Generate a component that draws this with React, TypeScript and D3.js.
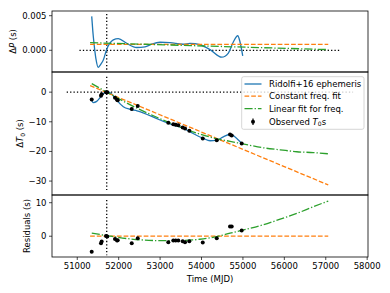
import React from 'react';
import * as d3 from 'd3';

// x axis ticks (MJD)
const mjdTicks = [51000, 52000, 53000, 54000, 55000, 56000, 57000, 58000];
const refEpoch = 51711;

// Ridolfi+16 ephemeris, period offset
const ephPMjd = [51349, 51375, 51404, 51450, 51508, 51570, 51629, 51711, 51870, 51991, 52194, 52435, 52636, 52798, 52998, 53240, 53554, 53723, 53964, 54206, 54488, 54648, 54768, 54875, 54930, 54995];
const ephDP = [0.0049, 0.0028, 0.001, -0.0012, -0.00246, -0.002, -0.0014, 0.00015, 0.0015, 0.0017, 0.001, 0.0004, 0.0005, 0.0009, 0.00116, 0.0011, 0.00087, 0.001, 0.0008, 0.0001, -0.001, -0.0004, 0.0012, 0.0021, 0.0012, -0.0008];

// Ridolfi+16 ephemeris, T0 offset
const ephTMjd = [51349, 51387, 51469, 51566, 51670, 51750, 51870, 51952, 52112, 52274, 52443, 52998, 53319, 53561, 53723, 54044, 54206, 54367, 54527, 54688, 54809, 54971];
const ephDT = [-2.7, -3.5, -3.1, -1.6, -0.1, 0.1, -1.2, -2.7, -4.9, -5.8, -6.3, -9.4, -11.1, -12.2, -13.4, -15.6, -16.4, -16.2, -15.1, -14.2, -15.1, -17.3];

// constant freq. fit
const constMjd = [51310, 57060];
const constDP = [0.00085, 0.00085];
const constDT = [2.2, -31.3];
const constRes = [0, 0];

// linear fit for freq.
const linPMjd = [51310, 57060];
const linDP = [0.0011, 0.0001];
const linMjd = [51350, 51710, 52270, 53000, 53480, 53960, 54370, 54690, 55090, 55490, 55900, 56300, 56700, 57060];
const linDT = [2.86, 0.06, -4.2, -8.96, -11.75, -14.15, -15.73, -16.6, -17.7, -18.77, -19.45, -20.1, -20.4, -20.8];
const linRes = [0.9, 0.2, -0.8, -1.3, -1.3, -0.9, -0.1, 0.9, 2.1, 3.4, 5.1, 6.8, 8.8, 10.5];

// observed T0s
const obsMjd = [51349, 51573, 51590, 51694, 51725, 51911, 51960, 51976, 52315, 52460, 53198, 53319, 53377, 53440, 53546, 53602, 53706, 54030, 54368, 54688, 54729, 54970];
const obsDT = [-2.5, -1.2, -0.7, 0, 0, -1.9, -2.6, -2.7, -5.7, -4.7, -10.3, -10.8, -11.0, -11.2, -11.9, -12.3, -13.0, -15.6, -16.2, -14.3, -14.6, -17.3];
const obsRes = [-4.6, -2.1, -1.6, 0.1, -0.1, -0.8, -1.3, -1.2, -2.1, -0.6, -1.8, -1.3, -1.3, -1.3, -1.5, -1.8, -1.5, -1.9, -0.6, 2.9, 2.9, 1.7];

const pTicks = [0, 0.005];
const tTicks = [0, -10, -20, -30];
const rTicks = [0, 10];

const BLUE = '#1f77b4';
const ORANGE = '#ff7f0e';
const GREEN = '#2ca02c';
const FONT = 'DejaVu Sans, sans-serif';
const FS = 8.5;

const L = 52;
const R = 368;

const x = d3.scaleLinear().domain([50390, 58020]).range([L, R]);
const yP = d3.scaleLinear().domain([-0.00314, 0.00568]).range([72, 11]);
const yT = d3.scaleLinear().domain([-34.7, 6.8]).range([195, 72]);
const yR = d3.scaleLinear().domain([-6.2, 12.3]).range([257, 195]);

const zip = (a: number[], b: number[]) => a.map((v, i) => [v, b[i]] as [number, number]);

const mkLine = (y: d3.ScaleLinear<number, number>, smooth = true) => {
  const l = d3.line<[number, number]>().x(d => x(d[0])).y(d => y(d[1]));
  if (smooth) l.curve(d3.curveMonotoneX);
  return l;
};

const dashed = '4.7,2';
const dashdot = '8.1,2,1.3,2';
const dotted = '1.3,2.1';

const App = () => {
  const lP = mkLine(yP);
  const lT = mkLine(yT);
  const lR = mkLine(yR);
  const fmtP = d3.format('.3f');
  const minus = (v: number) => (v < 0 ? '\u2212' + Math.abs(v) : String(v));

  const yTicks = (scale: d3.ScaleLinear<number, number>, ticks: number[], fmt: (v: number) => string) =>
    ticks.map(t => (
      <g key={t}>
        <line x1={L - 3} x2={L} y1={scale(t)} y2={scale(t)} stroke="#000" strokeWidth={0.7} />
        <text x={L - 5.5} y={scale(t)} dy="0.35em" textAnchor="end" fontSize={FS}>{fmt(t)}</text>
      </g>
    ));

  return (
    <svg width={390} height={293} style={{ position: 'absolute', left: 0, top: 0, background: '#fff' }} fontFamily={FONT}>
      <defs>
        <clipPath id="cP"><rect x={L} y={11} width={R - L} height={61} /></clipPath>
        <clipPath id="cT"><rect x={L} y={72} width={R - L} height={123} /></clipPath>
        <clipPath id="cR"><rect x={L} y={195} width={R - L} height={62} /></clipPath>
      </defs>

      {/* top panel: period offset */}
      <g clipPath="url(#cP)">
        <line x1={x(51053)} x2={x(57345)} y1={yP(0)} y2={yP(0)} stroke="#000" strokeWidth={1.3} strokeDasharray={dotted} />
        <line x1={x(refEpoch)} x2={x(refEpoch)} y1={yP(0.00525)} y2={yP(-0.00285)} stroke="#000" strokeWidth={1.3} strokeDasharray={dotted} />
        <path d={lP(zip(ephPMjd, ephDP)) as string} fill="none" stroke={BLUE} strokeWidth={1.3} />
        <path d={lP(zip(constMjd, constDP)) as string} fill="none" stroke={ORANGE} strokeWidth={1.3} strokeDasharray={dashed} />
        <path d={lP(zip(linPMjd, linDP)) as string} fill="none" stroke={GREEN} strokeWidth={1.3} strokeDasharray={dashdot} />
      </g>

      {/* middle panel: T0 offset */}
      <g clipPath="url(#cT)">
        <line x1={x(50745)} x2={x(57660)} y1={yT(0)} y2={yT(0)} stroke="#000" strokeWidth={1.3} strokeDasharray={dotted} />
        <line x1={x(refEpoch)} x2={x(refEpoch)} y1={yT(5.2)} y2={yT(-33.0)} stroke="#000" strokeWidth={1.3} strokeDasharray={dotted} />
        <path d={lT(zip(ephTMjd, ephDT)) as string} fill="none" stroke={BLUE} strokeWidth={1.3} />
        <path d={lT(zip(constMjd, constDT)) as string} fill="none" stroke={ORANGE} strokeWidth={1.3} strokeDasharray={dashed} />
        <path d={lT(zip(linMjd, linDT)) as string} fill="none" stroke={GREEN} strokeWidth={1.3} strokeDasharray={dashdot} />
        {obsMjd.map((m, i) => (
          <circle key={i} cx={x(m)} cy={yT(obsDT[i])} r={2} fill="#000" />
        ))}
      </g>

      {/* bottom panel: residuals */}
      <g clipPath="url(#cR)">
        <line x1={x(refEpoch)} x2={x(refEpoch)} y1={yR(10.8)} y2={yR(-5.7)} stroke="#000" strokeWidth={1.3} strokeDasharray={dotted} />
        <path d={lR(zip(constMjd, constRes)) as string} fill="none" stroke={ORANGE} strokeWidth={1.3} strokeDasharray={dashed} />
        <path d={lR(zip(linMjd, linRes)) as string} fill="none" stroke={GREEN} strokeWidth={1.3} strokeDasharray={dashdot} />
        {obsMjd.map((m, i) => (
          <circle key={i} cx={x(m)} cy={yR(obsRes[i])} r={2} fill="#000" />
        ))}
      </g>

      {/* frames */}
      <rect x={L} y={11} width={R - L} height={61} fill="none" stroke="#000" strokeWidth={0.8} />
      <rect x={L} y={72} width={R - L} height={123} fill="none" stroke="#000" strokeWidth={0.8} />
      <rect x={L} y={195} width={R - L} height={62} fill="none" stroke="#000" strokeWidth={0.8} />

      {/* y ticks */}
      {yTicks(yP, pTicks, fmtP)}
      {yTicks(yT, tTicks, minus)}
      {yTicks(yR, rTicks, minus)}

      {/* x ticks */}
      {mjdTicks.map(t => (
        <g key={t}>
          <line x1={x(t)} x2={x(t)} y1={257} y2={260} stroke="#000" strokeWidth={0.7} />
          <text x={x(t)} y={263} dy="0.72em" textAnchor="middle" fontSize={FS}>{t}</text>
        </g>
      ))}

      {/* axis labels */}
      <text x={210} y={282} textAnchor="middle" fontSize={FS}>Time (MJD)</text>
      <text transform={`translate(16,${(11 + 72) / 2}) rotate(-90)`} textAnchor="middle" fontSize={FS}>
        Δ<tspan fontStyle="italic">P</tspan> (s)
      </text>
      <text transform={`translate(23,${(72 + 195) / 2}) rotate(-90)`} textAnchor="middle" fontSize={FS}>
        Δ<tspan fontStyle="italic">T</tspan><tspan fontSize={6} dy={1.8}>0</tspan><tspan dy={-1.8}> (s)</tspan>
      </text>
      <text transform={`translate(29.5,${(195 + 257) / 2}) rotate(-90)`} textAnchor="middle" fontSize={FS}>Residuals (s)</text>

      {/* legend */}
      <g>
        <rect x={241.7} y={76.7} width={122.3} height={52.6} rx={2} fill="#fff" fillOpacity={0.8} stroke="#ccc" strokeWidth={0.8} />
        <line x1={244.5} x2={261.5} y1={84} y2={84} stroke={BLUE} strokeWidth={1.3} />
        <text x={269} y={84} dy="0.35em" fontSize={FS}>Ridolfi+16 ephemeris</text>
        <line x1={244.5} x2={261.5} y1={96.2} y2={96.2} stroke={ORANGE} strokeWidth={1.3} strokeDasharray={dashed} />
        <text x={269} y={96.2} dy="0.35em" fontSize={FS}>Constant freq. fit</text>
        <line x1={244.5} x2={261.5} y1={108.6} y2={108.6} stroke={GREEN} strokeWidth={1.3} strokeDasharray={dashdot} />
        <text x={269} y={108.6} dy="0.35em" fontSize={FS}>Linear fit for freq.</text>
        <line x1={253} x2={253} y1={118.5} y2={125} stroke="#000" strokeWidth={1.2} />
        <circle cx={253} cy={121.7} r={2} fill="#000" />
        <text x={269} y={121.7} dy="0.35em" fontSize={FS}>
          Observed <tspan fontStyle="italic">T</tspan><tspan fontSize={6} dy={1.8}>0</tspan><tspan dy={-1.8}>s</tspan>
        </text>
      </g>
    </svg>
  );
};

export default App;
